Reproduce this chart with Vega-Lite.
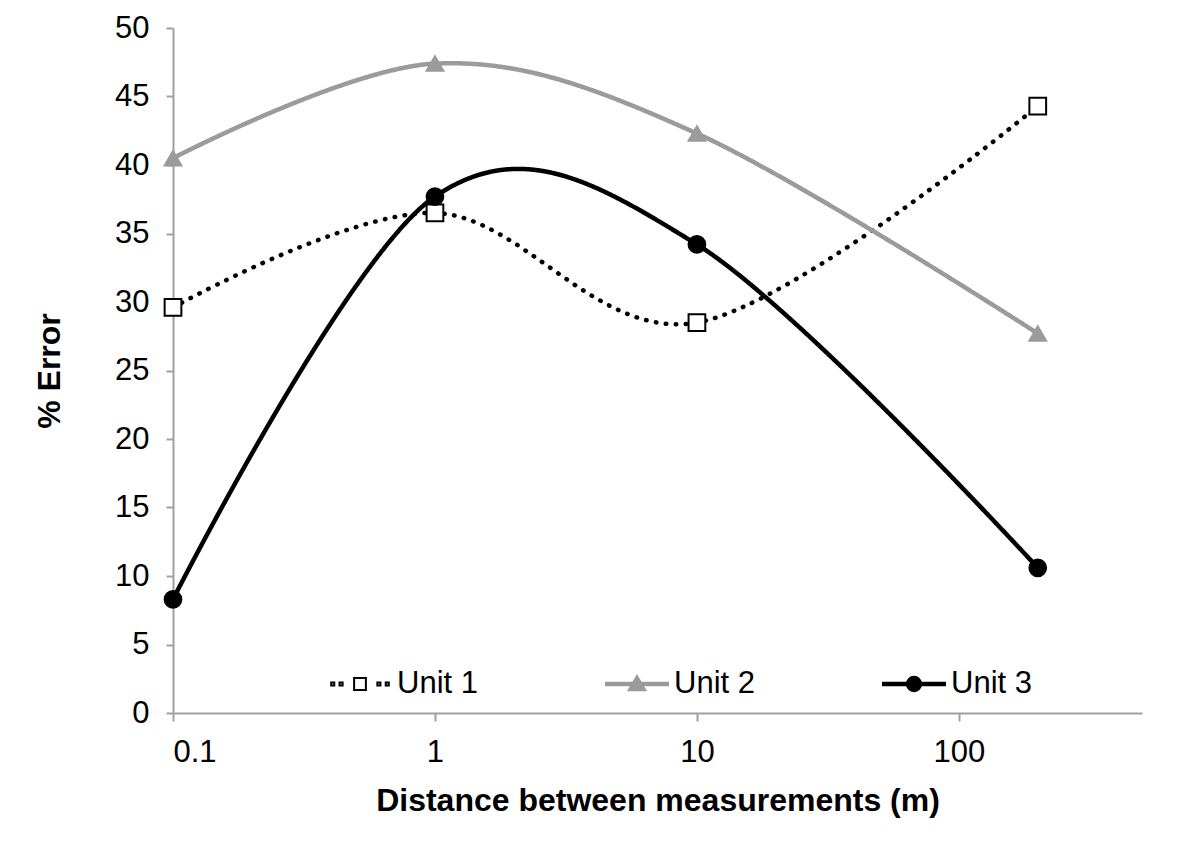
{
  "$schema": "https://vega.github.io/schema/vega-lite/v6.json",
  "width": 969,
  "height": 685,
  "autosize": {"type": "none"},
  "padding": {"left": 173, "top": 28, "right": 58, "bottom": 133},
  "background": "white",
  "config": {
    "font": "Liberation Sans",
    "view": {"stroke": null},
    "axis": {"grid": false, "domainColor": "#a0a0a0", "domainWidth": 2, "tickColor": "#a0a0a0", "tickWidth": 2, "labelColor": "black", "labelFont": "Liberation Sans", "labelFontSize": 31, "titleFont": "Liberation Sans", "titleFontWeight": "bold", "titleColor": "black"}
  },
  "data": {
    "values": [
      {"unit": "Unit 1", "distance": 0.1, "error": 29.6},
      {"unit": "Unit 1", "distance": 1, "error": 36.5},
      {"unit": "Unit 1", "distance": 10, "error": 28.5},
      {"unit": "Unit 1", "distance": 200, "error": 44.3},
      {"unit": "Unit 2", "distance": 0.1, "error": 40.5},
      {"unit": "Unit 2", "distance": 1, "error": 47.4},
      {"unit": "Unit 2", "distance": 10, "error": 42.3},
      {"unit": "Unit 2", "distance": 200, "error": 27.7},
      {"unit": "Unit 3", "distance": 0.1, "error": 8.3},
      {"unit": "Unit 3", "distance": 1, "error": 37.7},
      {"unit": "Unit 3", "distance": 10, "error": 34.2},
      {"unit": "Unit 3", "distance": 200, "error": 10.6}
    ]
  },
  "encoding": {
    "x": {"field": "distance", "type": "quantitative", "scale": {"type": "log", "domain": [0.1, 500], "nice": false},
      "axis": {"values": [0.1, 1, 10, 100], "format": "~g", "tickSize": 8, "labelPadding": 16, "title": "Distance between measurements (m)", "titleFontSize": 32, "titlePadding": 18}},
    "y": {"field": "error", "type": "quantitative", "scale": {"domain": [0, 50], "nice": false},
      "axis": {"values": [0, 5, 10, 15, 20, 25, 30, 35, 40, 45, 50], "tickSize": 7, "labelPadding": 17, "title": "% Error", "titleFontSize": 32, "titlePadding": 48}}
  },
  "layer": [
    {
      "mark": {"type": "line", "interpolate": "cardinal", "tension": 0, "strokeWidth": 4.5, "strokeCap": "round"},
      "encoding": {
        "color": {"field": "unit", "type": "nominal", "scale": {"domain": ["Unit 1", "Unit 2", "Unit 3"], "range": ["black", "#9b9b9b", "black"]}, "legend": null},
        "strokeDash": {"field": "unit", "type": "nominal", "scale": {"domain": ["Unit 1", "Unit 2", "Unit 3"], "range": [[0.5, 9.5], [1, 0], [1, 0]]}, "legend": null}
      }
    },
    {
      "mark": {"type": "point", "filled": true, "opacity": 1, "size": 280, "strokeWidth": 2},
      "encoding": {
        "shape": {"field": "unit", "type": "nominal", "scale": {"domain": ["Unit 1", "Unit 2", "Unit 3"], "range": ["square", "triangle-up", "circle"]}, "legend": null},
        "fill": {"field": "unit", "type": "nominal", "scale": {"domain": ["Unit 1", "Unit 2", "Unit 3"], "range": ["white", "#9b9b9b", "black"]}, "legend": null},
        "stroke": {"field": "unit", "type": "nominal", "scale": {"domain": ["Unit 1", "Unit 2", "Unit 3"], "range": ["black", "#9b9b9b", "black"]}, "legend": null}
      }
    },
    {
      "transform": [{"filter": "false"}],
      "mark": {"type": "point", "filled": true, "opacity": 1, "size": 3844, "strokeWidth": 2},
      "encoding": {
        "shape": {"field": "unit", "type": "nominal",
          "scale": {"domain": ["Unit 1", "Unit 2", "Unit 3"], "range": [
            "M-0.93,-0.05H-0.83V0.05H-0.93Z M-0.66,-0.05H-0.56V0.05H-0.66Z M-0.19,-0.19H0.19V0.19H-0.19Z M0.56,-0.05H0.66V0.05H0.56Z M0.83,-0.05H0.93V0.05H0.83Z",
            "M-1,-0.04H1V0.04H-1Z M-0.27,0.2L0,-0.26L0.27,0.2Z",
            "M-1,-0.04H1V0.04H-1Z M0.23,0A0.23,0.23,0,1,1,-0.23,0A0.23,0.23,0,1,1,0.23,0Z"
          ]},
          "legend": {"title": null, "orient": "none", "legendX": 155, "legendY": 624, "direction": "horizontal", "columns": 3, "columnPadding": 124, "labelFontSize": 31, "labelFont": "Liberation Sans", "labelColor": "black", "labelOffset": 5, "symbolSize": 3844, "symbolStrokeWidth": 2, "labelLimit": 200}},
        "fill": {"field": "unit", "type": "nominal", "scale": {"domain": ["Unit 1", "Unit 2", "Unit 3"], "range": ["white", "#9b9b9b", "black"]},
          "legend": {"title": null, "orient": "none", "legendX": 155, "legendY": 624, "direction": "horizontal", "columns": 3, "columnPadding": 124, "labelFontSize": 31, "labelFont": "Liberation Sans", "labelColor": "black", "labelOffset": 5, "symbolSize": 3844, "symbolStrokeWidth": 2, "labelLimit": 200}},
        "stroke": {"field": "unit", "type": "nominal", "scale": {"domain": ["Unit 1", "Unit 2", "Unit 3"], "range": ["black", "#9b9b9b", "black"]},
          "legend": {"title": null, "orient": "none", "legendX": 155, "legendY": 624, "direction": "horizontal", "columns": 3, "columnPadding": 124, "labelFontSize": 31, "labelFont": "Liberation Sans", "labelColor": "black", "labelOffset": 5, "symbolSize": 3844, "symbolStrokeWidth": 2, "labelLimit": 200}}
      }
    }
  ],
  "resolve": {"scale": {"shape": "independent", "fill": "independent", "stroke": "independent"}}
}
